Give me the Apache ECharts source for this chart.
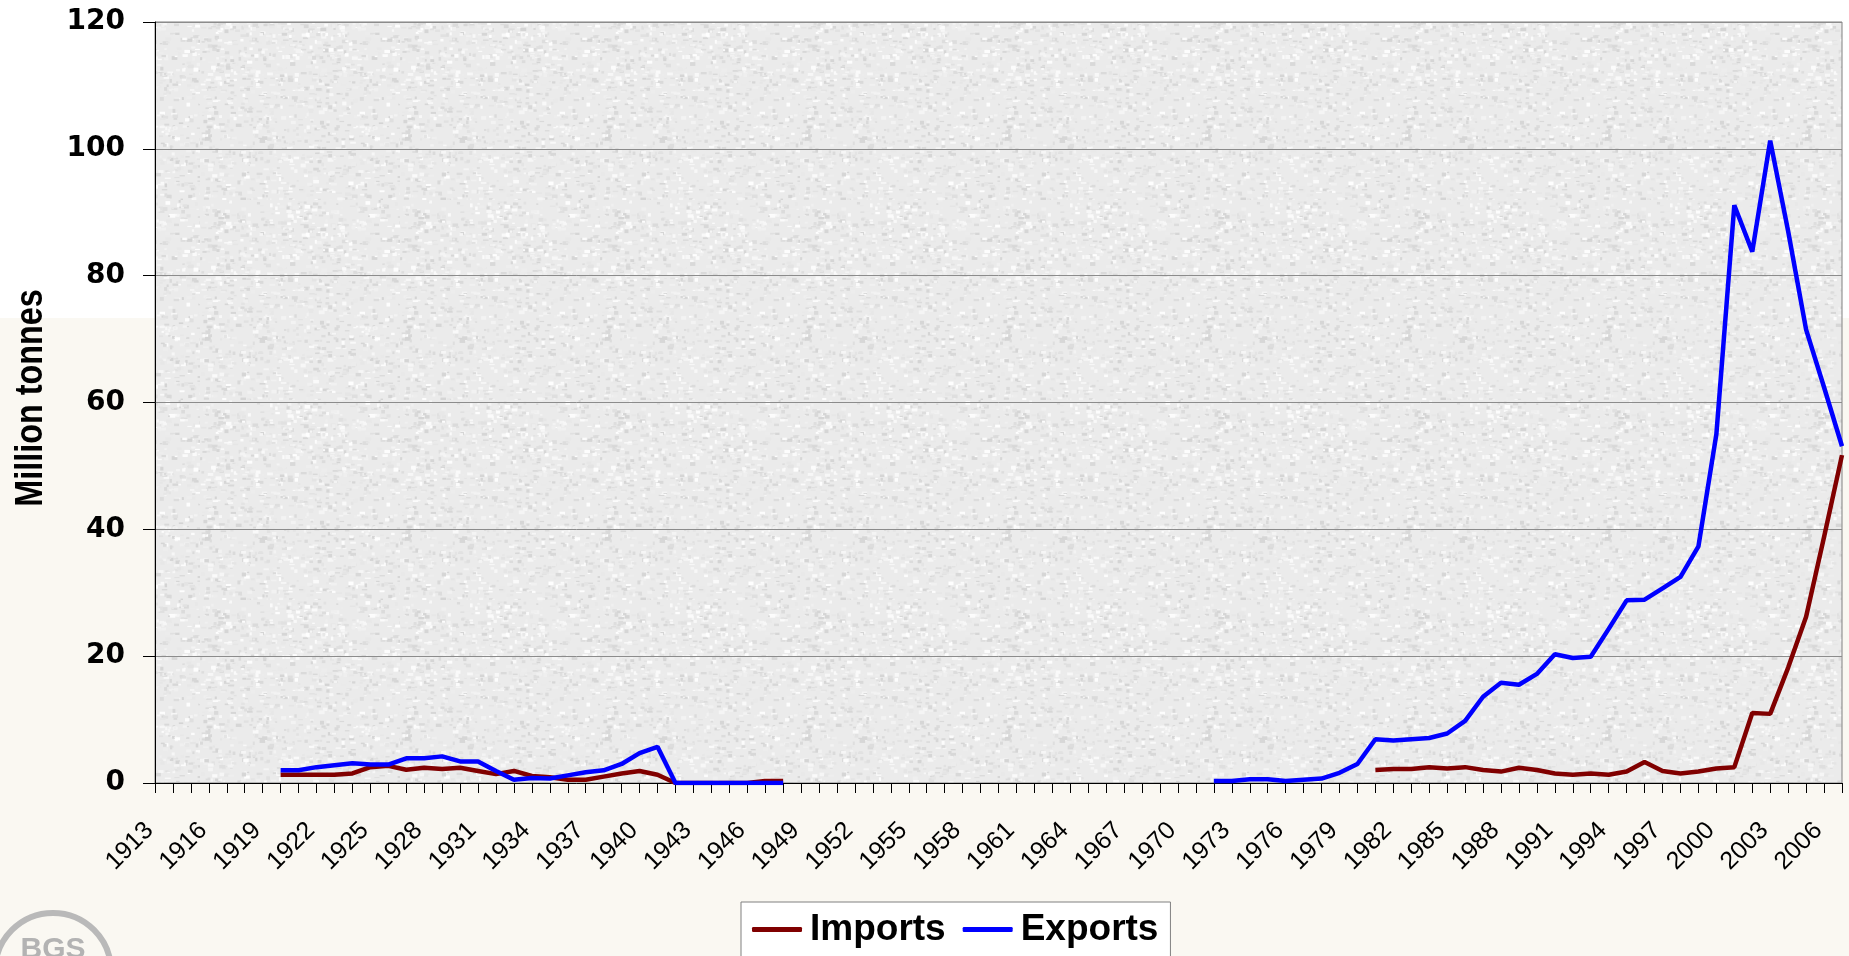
<!DOCTYPE html>
<html lang="en">

<head>
  <meta charset="UTF-8">
  <title>Imports and Exports</title>
  <script src="https://cdn.jsdelivr.net/npm/echarts@6/dist/echarts.min.js"></script>
</head>

<body style="margin: 0;padding: 0;">
  <div id="main" style="width: 1849px;height: 956px;"></div>
  <script>
    // years 1913..2007, one category per year
    var firstYear = 1913;
    var lastYear = 2007;
    var years = [];
    for (var y = firstYear; y <= lastYear; y++) years.push(String(y));

    // million tonnes (null = no data)
    var imports = [
      null, null, null, null, null, null, null,
      1.3, 1.3, 1.3, 1.3, 1.5, 2.5, 2.7, 2.1, 2.4, 2.2,
      2.4, 1.9, 1.4, 1.9, 1.1, 0.9, 0.5, 0.5, 1.0, 1.5,
      1.9, 1.3, 0, 0, 0, 0, 0, 0.3, 0.3,
      null, null, null, null, null, null, null, null, null, null,
      null, null, null, null, null, null, null, null, null, null,
      null, null, null, null, null, null, null, null, null, null,
      null, null,
      2.05, 2.2, 2.2, 2.5, 2.3, 2.5, 2.05, 1.8, 2.4, 2.05,
      1.5, 1.3, 1.5, 1.3, 1.8, 3.3, 1.9, 1.5, 1.8, 2.3,
      2.5, 11.05, 10.9, 18.2, 26.2, 38.8, 51.7
    ];
    var exports = [
      null, null, null, null, null, null, null,
      2.0, 2.0, 2.5, 2.8, 3.1, 2.9, 2.9, 3.9, 3.9, 4.2,
      3.4, 3.4, 1.9, 0.5, 0.8, 0.7, 1.2, 1.7, 2.0, 3.0,
      4.7, 5.7, 0, 0, 0, 0, 0, 0, 0,
      null, null, null, null, null, null, null, null, null, null,
      null, null, null, null, null, null, null, null, null, null,
      null, null, null,
      0.3, 0.3, 0.6, 0.6, 0.3, 0.5, 0.7, 1.6, 3.0, 6.9,
      6.7, 6.9, 7.1, 7.8, 9.8, 13.6, 15.8, 15.5, 17.2, 20.3,
      19.7, 19.9, 24.3, 28.8, 28.9, 30.7, 32.5, 37.3, 55.0, 91.1,
      83.8, 101.3, 87.0, 71.5, 62.4, 53.1
    ];

    // grey speckled fill like the excel texture
    function makeTexture() {
      var c = document.createElement('canvas');
      c.width = 200; c.height = 200;
      var ctx = c.getContext('2d');
      ctx.fillStyle = '#ebebeb';
      ctx.fillRect(0, 0, 200, 200);
      var s = 20240;
      function next() { s = (s * 1103515245 + 12345) & 0x7fffffff; return s / 0x7fffffff; }
      for (var i = 0; i < 1500; i++) {
        var g = Math.round(212 + next() * 42);
        ctx.fillStyle = 'rgb(' + g + ',' + g + ',' + g + ')';
        ctx.fillRect(next() * 200, next() * 200, 2 + next() * 4, 1 + next() * 3);
      }
      return c;
    }

    var chartDom = document.getElementById('main');
    var myChart = echarts.init(chartDom);
    var option;

    option = {
      backgroundColor: '#faf8f2',
      animation: false,
      graphic: [
        { type: 'rect', z: -100, shape: { x: 0, y: 0, width: 1849, height: 318 }, style: { fill: '#ffffff' } },
        { type: 'circle', z: -50, shape: { cx: 53, cy: 971, r: 58 }, style: { fill: 'none', stroke: '#b9b9b9', lineWidth: 6 } },
        { type: 'text', z: -50, x: 53, y: 950, style: { text: 'BGS', font: 'bold 30px "Liberation Sans"', fill: '#b3b3b3', textAlign: 'center', textVerticalAlign: 'middle' } },
        {
          type: 'text', x: 31, y: 398, rotation: Math.PI / 2, scaleX: 0.83,
          style: { text: 'Million tonnes', font: 'bold 39px "Liberation Sans"', fill: '#000', textAlign: 'center', textVerticalAlign: 'middle' }
        }
      ],
      legend: {
        left: 741,
        top: 902,
        itemWidth: 50,
        itemHeight: 5,
        itemGap: 17,
        icon: 'roundRect',
        backgroundColor: '#ffffff',
        borderColor: '#808080',
        borderWidth: 1,
        borderRadius: 0,
        padding: [9, 12, 20, 11],
        textStyle: { fontSize: 37, fontWeight: 'bold', fontFamily: 'Liberation Sans', color: '#000', padding: [0, 0, 0, 3] },
        data: ['Imports', 'Exports']
      },
      grid: {
        left: 155,
        right: 7,
        top: 22,
        bottom: 173,
        show: true,
        backgroundColor: { image: makeTexture(), repeat: 'repeat' },
        borderColor: '#808080',
        borderWidth: 1
      },
      xAxis: {
        type: 'category',
        data: years,
        boundaryGap: false,
        axisLine: { lineStyle: { color: '#000', width: 1 } },
        axisTick: { interval: 0, length: 10, lineStyle: { color: '#000' } },
        axisLabel: {
          interval: 2,
          rotate: 45,
          margin: 38,
          padding: [0, 8, 0, 0],
          fontSize: 25,
          fontFamily: 'Liberation Sans',
          color: '#000'
        },
        splitLine: { show: false }
      },
      yAxis: {
        type: 'value',
        min: 0,
        max: 120,
        interval: 20,
        axisLine: { show: true, lineStyle: { color: '#000', width: 1 } },
        axisTick: { show: true, length: 12, lineStyle: { color: '#000' } },
        axisLabel: { margin: 30, fontSize: 28, fontWeight: 'bold', fontFamily: 'DejaVu Sans', color: '#000' },
        splitLine: { lineStyle: { color: '#8c8c8c', width: 1 } }
      },
      series: [
        {
          name: 'Imports',
          type: 'line',
          data: imports,
          showSymbol: false,
          symbol: 'none',
          color: '#800000',
          lineStyle: { width: 4.5, color: '#800000' }
        },
        {
          name: 'Exports',
          type: 'line',
          data: exports,
          showSymbol: false,
          symbol: 'none',
          color: '#0000ff',
          lineStyle: { width: 4.5, color: '#0000ff' }
        }
      ]
    };

    option && myChart.setOption(option);
  </script>
</body>

</html>
